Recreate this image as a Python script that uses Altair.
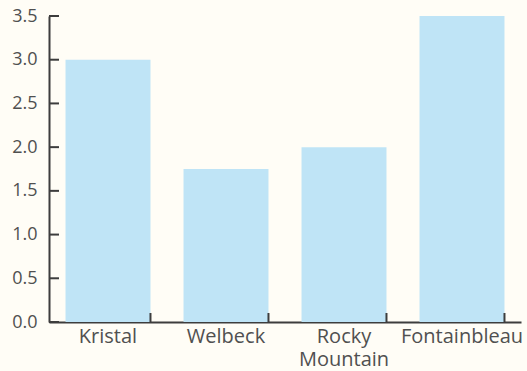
import altair as alt
import pandas as pd

categories = ["Kristal", "Welbeck", "Rocky Mountain", "Fontainbleau"]
values = [3.0, 1.75, 2.0, 3.5]
y_ticks = [0.0, 0.5, 1.0, 1.5, 2.0, 2.5, 3.0, 3.5]

df = pd.DataFrame({"cat": categories, "val": values})
ticks_df = pd.DataFrame({"t": y_ticks})

W, H = 472, 306
axis_col = "#3d3d3d"
text_col = "#505050"

xscale = alt.Scale(domain=categories, paddingInner=0.28, paddingOuter=0.14)
yscale = alt.Scale(domain=[0, 3.5], nice=False)

bars = alt.Chart(df).mark_bar(color="#bfe4f6").encode(
    x=alt.X("cat:N", scale=xscale, sort=categories,
            axis=alt.Axis(title=None, labelAngle=0, ticks=False, domain=True,
                          domainColor=axis_col, domainWidth=2,
                          labelFont="Open Sans", labelFontSize=20, labelColor=text_col,
                          labelPadding=4, labelLineHeight=23, labelOverlap=False,
                          labelBound=False,
                          labelExpr="datum.label == 'Rocky Mountain' ? ['Rocky', 'Mountain'] : datum.label")),
    y=alt.Y("val:Q", scale=yscale,
            axis=alt.Axis(title=None, values=y_ticks, format=".1f", ticks=False,
                          grid=False, domainColor=axis_col, domainWidth=2,
                          labelFont="Open Sans", labelFontSize=18, labelColor=text_col,
                          labelPadding=12)),
)

ytick_rules = alt.Chart(ticks_df).mark_rule(color=axis_col, strokeWidth=2).encode(
    y=alt.Y("t:Q", scale=yscale),
    x=alt.value(0),
    x2=alt.value(10),
)

xtick_rules = alt.Chart(df).mark_rule(color=axis_col, strokeWidth=2).encode(
    x=alt.X("cat:N", scale=xscale, sort=categories, bandPosition=1),
    y=alt.value(H),
    y2=alt.value(H - 9),
)

chart = alt.layer(bars, ytick_rules, xtick_rules).properties(
    width=W, height=H,
    background="#fffdf6",
    padding={"left": 49, "top": 16, "right": 6, "bottom": 49},
    autosize=alt.AutoSizeParams(type="none"),
).configure_view(stroke=None)

chart.save("out.html", embed_options={"renderer": "svg", "actions": False})
